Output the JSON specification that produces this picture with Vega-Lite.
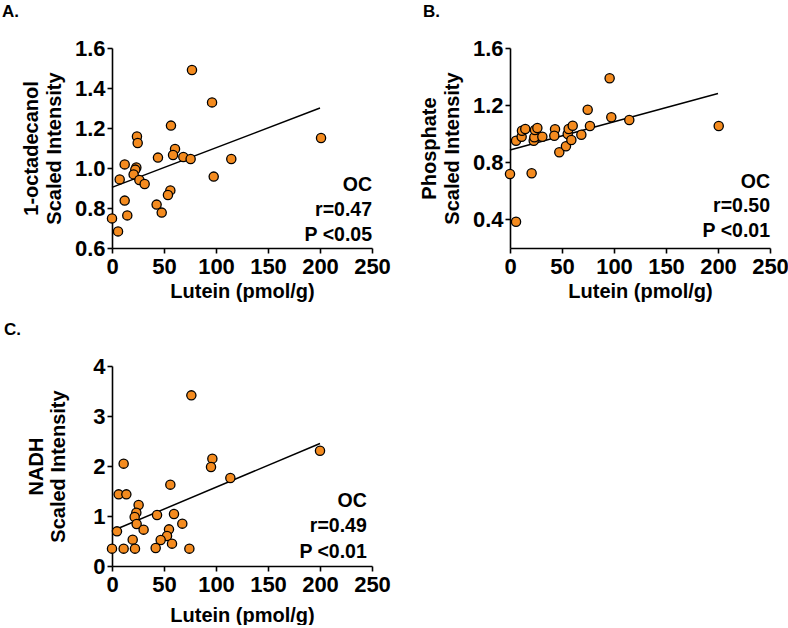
{
  "$schema": "https://vega.github.io/schema/vega-lite/v6.json",
  "background": "white",
  "padding": {"left": 2, "top": 3, "right": 0, "bottom": 0},
  "columns": 2,
  "spacing": {"row": 118, "column": 138},
  "bounds": "flush",
  "datasets": {
    "pts": [
      {"panel": "A", "x": 76.9, "y": 1.49}, {"panel": "A", "x": 96.2, "y": 1.328}, {"panel": "A", "x": 56.7, "y": 1.212},
      {"panel": "A", "x": 24.0, "y": 1.158}, {"panel": "A", "x": 24.7, "y": 1.125}, {"panel": "A", "x": 60.6, "y": 1.095},
      {"panel": "A", "x": 58.7, "y": 1.065}, {"panel": "A", "x": 44.2, "y": 1.052}, {"panel": "A", "x": 68.6, "y": 1.055},
      {"panel": "A", "x": 75.6, "y": 1.045}, {"panel": "A", "x": 114.7, "y": 1.045}, {"panel": "A", "x": 12.2, "y": 1.018},
      {"panel": "A", "x": 23.4, "y": 1.003}, {"panel": "A", "x": 22.4, "y": 0.992}, {"panel": "A", "x": 20.8, "y": 0.968},
      {"panel": "A", "x": 7.4, "y": 0.943}, {"panel": "A", "x": 26.3, "y": 0.94}, {"panel": "A", "x": 31.4, "y": 0.92},
      {"panel": "A", "x": 97.8, "y": 0.957}, {"panel": "A", "x": 56.1, "y": 0.888}, {"panel": "A", "x": 53.8, "y": 0.865},
      {"panel": "A", "x": 12.2, "y": 0.837}, {"panel": "A", "x": 42.9, "y": 0.817}, {"panel": "A", "x": 47.8, "y": 0.777},
      {"panel": "A", "x": 14.7, "y": 0.763}, {"panel": "A", "x": 0, "y": 0.748}, {"panel": "A", "x": 5.8, "y": 0.683},
      {"panel": "A", "x": 201, "y": 1.15},
      {"panel": "B", "x": 5.8, "y": 0.951}, {"panel": "B", "x": 11.2, "y": 0.979}, {"panel": "B", "x": 11.5, "y": 1.021},
      {"panel": "B", "x": 14.7, "y": 1.033}, {"panel": "B", "x": 22.8, "y": 0.951}, {"panel": "B", "x": 23.4, "y": 0.975},
      {"panel": "B", "x": 24.0, "y": 1.026}, {"panel": "B", "x": 26.3, "y": 1.04}, {"panel": "B", "x": 31.1, "y": 0.979},
      {"panel": "B", "x": 43.3, "y": 1.031}, {"panel": "B", "x": 42.6, "y": 0.986}, {"panel": "B", "x": 47.4, "y": 0.87},
      {"panel": "B", "x": 53.8, "y": 0.912}, {"panel": "B", "x": 55.5, "y": 0.998}, {"panel": "B", "x": 56.4, "y": 1.033},
      {"panel": "B", "x": 60.3, "y": 1.056}, {"panel": "B", "x": 59.0, "y": 0.956}, {"panel": "B", "x": 68.6, "y": 0.993},
      {"panel": "B", "x": 76.9, "y": 1.054}, {"panel": "B", "x": 74.7, "y": 1.168}, {"panel": "B", "x": 95.8, "y": 1.388},
      {"panel": "B", "x": 97.4, "y": 1.115}, {"panel": "B", "x": 114.7, "y": 1.096}, {"panel": "B", "x": 0, "y": 0.718},
      {"panel": "B", "x": 20.8, "y": 0.723}, {"panel": "B", "x": 5.8, "y": 0.384}, {"panel": "B", "x": 200.7, "y": 1.054},
      {"panel": "C", "x": 76.3, "y": 3.413}, {"panel": "C", "x": 96.5, "y": 2.147}, {"panel": "C", "x": 95.2, "y": 1.98},
      {"panel": "C", "x": 113.8, "y": 1.76}, {"panel": "C", "x": 11.2, "y": 2.047}, {"panel": "C", "x": 56.1, "y": 1.627},
      {"panel": "C", "x": 6.4, "y": 1.433}, {"panel": "C", "x": 13.8, "y": 1.433}, {"panel": "C", "x": 25.6, "y": 1.22},
      {"panel": "C", "x": 23.4, "y": 1.067}, {"panel": "C", "x": 21.8, "y": 0.98}, {"panel": "C", "x": 23.7, "y": 0.84},
      {"panel": "C", "x": 30.4, "y": 0.727}, {"panel": "C", "x": 43.3, "y": 1.02}, {"panel": "C", "x": 59.6, "y": 1.04},
      {"panel": "C", "x": 67.6, "y": 0.847}, {"panel": "C", "x": 54.8, "y": 0.733}, {"panel": "C", "x": 52.9, "y": 0.6},
      {"panel": "C", "x": 46.8, "y": 0.52}, {"panel": "C", "x": 57.7, "y": 0.447}, {"panel": "C", "x": 19.9, "y": 0.527},
      {"panel": "C", "x": 4.8, "y": 0.693}, {"panel": "C", "x": 0, "y": 0.347}, {"panel": "C", "x": 11.2, "y": 0.347},
      {"panel": "C", "x": 22.1, "y": 0.347}, {"panel": "C", "x": 42.0, "y": 0.36}, {"panel": "C", "x": 74.4, "y": 0.347},
      {"panel": "C", "x": 200, "y": 2.306}
    ],
    "fits": [
      {"panel": "A", "x": 0, "y": 0.903}, {"panel": "A", "x": 200, "y": 1.30},
      {"panel": "B", "x": 0, "y": 0.886}, {"panel": "B", "x": 200, "y": 1.282},
      {"panel": "C", "x": 0, "y": 0.70}, {"panel": "C", "x": 200, "y": 2.45}
    ],
    "notes": [
      {"panel": "A", "x": 250, "y": 0.8865, "label": "OC"}, {"panel": "A", "x": 250, "y": 0.7615, "label": "r=0.47"}, {"panel": "A", "x": 250, "y": 0.6365, "label": "P <0.05"},
      {"panel": "B", "x": 250, "y": 0.62, "label": "OC"}, {"panel": "B", "x": 250, "y": 0.449, "label": "r=0.50"}, {"panel": "B", "x": 250, "y": 0.274, "label": "P <0.01"},
      {"panel": "C", "x": 245, "y": 1.18, "label": "OC"}, {"panel": "C", "x": 245, "y": 0.68, "label": "r=0.49"}, {"panel": "C", "x": 245, "y": 0.166, "label": "P <0.01"}
    ]
  },
  "concat": [
    {
      "width": 260, "height": 200,
      "title": {"text": "A.", "dx": -110, "offset": 16},
      "encoding": {
        "x": {"field": "x", "type": "quantitative", "scale": {"domain": [0, 250], "nice": false, "zero": false},
              "axis": {"title": "Lutein (pmol/g)", "values": [0, 50, 100, 150, 200, 250], "titlePadding": 4}},
        "y": {"field": "y", "type": "quantitative", "scale": {"domain": [0.6, 1.6], "nice": false, "zero": false},
              "axis": {"title": ["1-octadecanol", "Scaled Intensity"], "values": [0.6, 0.8, 1.0, 1.2, 1.4, 1.6], "format": ".1f"}}
      },
      "layer": [
        {"data": {"name": "fits"}, "transform": [{"filter": "datum.panel === 'A'"}], "mark": {"type": "line", "color": "black", "strokeWidth": 1.5}},
        {"data": {"name": "pts"}, "transform": [{"filter": "datum.panel === 'A'"}], "mark": {"type": "point", "shape": "circle", "filled": true, "fill": "#F48B1F", "stroke": "black", "strokeWidth": 1.3, "size": 85, "opacity": 1}},
        {"data": {"name": "notes"}, "transform": [{"filter": "datum.panel === 'A'"}], "mark": {"type": "text", "align": "right", "baseline": "alphabetic", "fontSize": 19.5, "fontWeight": "bold", "font": "Liberation Sans", "color": "black"}, "encoding": {"text": {"field": "label"}}}
      ]
    },
    {
      "width": 260, "height": 200,
      "title": {"text": "B.", "dx": -87, "offset": 16},
      "encoding": {
        "x": {"field": "x", "type": "quantitative", "scale": {"domain": [0, 250], "nice": false, "zero": false},
              "axis": {"title": "Lutein (pmol/g)", "values": [0, 50, 100, 150, 200, 250], "titlePadding": 4}},
        "y": {"field": "y", "type": "quantitative", "scale": {"domain": [0.2, 1.6], "nice": false, "zero": false},
              "axis": {"title": ["Phosphate", "Scaled Intensity"], "values": [0.4, 0.8, 1.2, 1.6], "format": ".1f"}}
      },
      "layer": [
        {"data": {"name": "fits"}, "transform": [{"filter": "datum.panel === 'B'"}], "mark": {"type": "line", "color": "black", "strokeWidth": 1.5}},
        {"data": {"name": "pts"}, "transform": [{"filter": "datum.panel === 'B'"}], "mark": {"type": "point", "shape": "circle", "filled": true, "fill": "#F48B1F", "stroke": "black", "strokeWidth": 1.3, "size": 85, "opacity": 1}},
        {"data": {"name": "notes"}, "transform": [{"filter": "datum.panel === 'B'"}], "mark": {"type": "text", "align": "right", "baseline": "alphabetic", "fontSize": 19.5, "fontWeight": "bold", "font": "Liberation Sans", "color": "black"}, "encoding": {"text": {"field": "label"}}}
      ]
    },
    {
      "width": 260, "height": 200,
      "title": {"text": "C.", "dx": -108, "offset": 16},
      "encoding": {
        "x": {"field": "x", "type": "quantitative", "scale": {"domain": [0, 250], "nice": false, "zero": false},
              "axis": {"title": "Lutein (pmol/g)", "values": [0, 50, 100, 150, 200, 250], "titlePadding": 10}},
        "y": {"field": "y", "type": "quantitative", "scale": {"domain": [0, 4], "nice": false, "zero": false},
              "axis": {"title": ["NADH", "Scaled Intensity"], "values": [0, 1, 2, 3, 4], "format": "d", "titlePadding": 24}}
      },
      "layer": [
        {"data": {"name": "fits"}, "transform": [{"filter": "datum.panel === 'C'"}], "mark": {"type": "line", "color": "black", "strokeWidth": 1.5}},
        {"data": {"name": "pts"}, "transform": [{"filter": "datum.panel === 'C'"}], "mark": {"type": "point", "shape": "circle", "filled": true, "fill": "#F48B1F", "stroke": "black", "strokeWidth": 1.3, "size": 85, "opacity": 1}},
        {"data": {"name": "notes"}, "transform": [{"filter": "datum.panel === 'C'"}], "mark": {"type": "text", "align": "right", "baseline": "alphabetic", "fontSize": 19.5, "fontWeight": "bold", "font": "Liberation Sans", "color": "black"}, "encoding": {"text": {"field": "label"}}}
      ]
    }
  ],
  "config": {
    "font": "Liberation Sans",
    "view": {"stroke": null},
    "axis": {
      "domainColor": "black", "domainWidth": 1.6, "tickColor": "black", "tickWidth": 1.6, "tickSize": 5,
      "grid": false, "labelFlush": false, "labelOverlap": false,
      "labelFont": "Liberation Sans", "labelFontSize": 22, "labelFontWeight": "bold", "labelColor": "black",
      "titleFont": "Liberation Sans", "titleFontSize": 20, "titleFontWeight": "bold", "titleColor": "black"
    },
    "axisX": {"labelPadding": 3},
    "axisY": {"labelPadding": 2, "titlePadding": 10, "titleLineHeight": 22.5},
    "title": {"font": "Liberation Sans", "fontSize": 17, "fontWeight": "bold", "color": "black", "anchor": "start", "frame": "group"}
  }
}
